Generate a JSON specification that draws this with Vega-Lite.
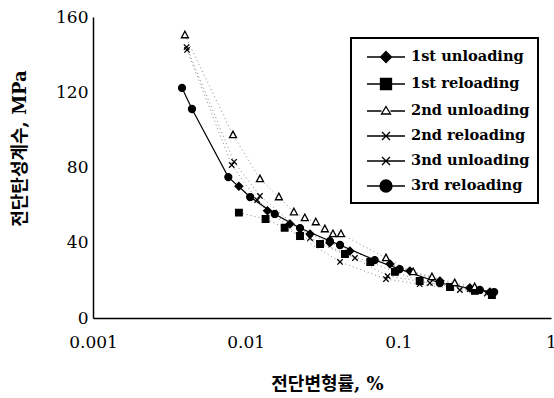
{
  "$schema": "https://vega.github.io/schema/vega-lite/v6.json",
  "width": 458,
  "height": 301,
  "autosize": {"type": "none"},
  "padding": {"left": 93, "top": 17, "right": 3, "bottom": 80},
  "background": "white",
  "config": {"view": {"stroke": null}, "font": "DejaVu Serif", "legend": {"strokeWidth": 2}},
  "data": {"values": [
    {"series": "1st unloading", "strain": 0.00903, "G": 70},
    {"series": "1st unloading", "strain": 0.0139, "G": 57},
    {"series": "1st unloading", "strain": 0.0195, "G": 50},
    {"series": "1st unloading", "strain": 0.0264, "G": 44.6},
    {"series": "1st unloading", "strain": 0.0356, "G": 40},
    {"series": "1st unloading", "strain": 0.0482, "G": 35.6},
    {"series": "1st unloading", "strain": 0.0882, "G": 28.7},
    {"series": "1st unloading", "strain": 0.119, "G": 25},
    {"series": "1st unloading", "strain": 0.187, "G": 19.7},
    {"series": "1st unloading", "strain": 0.294, "G": 16},
    {"series": "1st unloading", "strain": 0.398, "G": 13.8},
    {"series": "1st reloading", "strain": 0.00903, "G": 56},
    {"series": "1st reloading", "strain": 0.0135, "G": 52.6},
    {"series": "1st reloading", "strain": 0.018, "G": 48},
    {"series": "1st reloading", "strain": 0.0227, "G": 43.6},
    {"series": "1st reloading", "strain": 0.0307, "G": 39.3},
    {"series": "1st reloading", "strain": 0.0447, "G": 34},
    {"series": "1st reloading", "strain": 0.0655, "G": 29.8},
    {"series": "1st reloading", "strain": 0.095, "G": 24.5},
    {"series": "1st reloading", "strain": 0.138, "G": 19.7},
    {"series": "1st reloading", "strain": 0.218, "G": 16.5},
    {"series": "1st reloading", "strain": 0.317, "G": 14.4},
    {"series": "1st reloading", "strain": 0.41, "G": 12.2},
    {"series": "2nd unloading", "strain": 0.004, "G": 150.4},
    {"series": "2nd unloading", "strain": 0.00826, "G": 97.3},
    {"series": "2nd unloading", "strain": 0.0124, "G": 73.9},
    {"series": "2nd unloading", "strain": 0.0165, "G": 64.3},
    {"series": "2nd unloading", "strain": 0.0207, "G": 56.3},
    {"series": "2nd unloading", "strain": 0.0244, "G": 53.2},
    {"series": "2nd unloading", "strain": 0.0288, "G": 51},
    {"series": "2nd unloading", "strain": 0.033, "G": 47.3},
    {"series": "2nd unloading", "strain": 0.0373, "G": 44.7},
    {"series": "2nd unloading", "strain": 0.0421, "G": 44.7},
    {"series": "2nd unloading", "strain": 0.083, "G": 31.9},
    {"series": "2nd unloading", "strain": 0.125, "G": 24.5},
    {"series": "2nd unloading", "strain": 0.166, "G": 21.8},
    {"series": "2nd unloading", "strain": 0.234, "G": 18.6},
    {"series": "2nd unloading", "strain": 0.316, "G": 16.5},
    {"series": "2nd reloading", "strain": 0.00413, "G": 142.5},
    {"series": "2nd reloading", "strain": 0.0081, "G": 81.3},
    {"series": "2nd reloading", "strain": 0.0119, "G": 62.7},
    {"series": "2nd reloading", "strain": 0.0227, "G": 43},
    {"series": "2nd reloading", "strain": 0.0415, "G": 29.8},
    {"series": "2nd reloading", "strain": 0.083, "G": 20.7},
    {"series": "2nd reloading", "strain": 0.138, "G": 18},
    {"series": "2nd reloading", "strain": 0.253, "G": 14.9},
    {"series": "2nd reloading", "strain": 0.38, "G": 13},
    {"series": "3nd unloading", "strain": 0.0041, "G": 144},
    {"series": "3nd unloading", "strain": 0.0084, "G": 83},
    {"series": "3nd unloading", "strain": 0.0124, "G": 64.9},
    {"series": "3nd unloading", "strain": 0.0264, "G": 42.5},
    {"series": "3nd unloading", "strain": 0.052, "G": 31.9},
    {"series": "3nd unloading", "strain": 0.085, "G": 22.3},
    {"series": "3nd unloading", "strain": 0.161, "G": 18.6},
    {"series": "3nd unloading", "strain": 0.294, "G": 15.4},
    {"series": "3rd reloading", "strain": 0.00383, "G": 122.3},
    {"series": "3rd reloading", "strain": 0.00445, "G": 111.1},
    {"series": "3rd reloading", "strain": 0.0077, "G": 74.9},
    {"series": "3rd reloading", "strain": 0.0107, "G": 64.3},
    {"series": "3rd reloading", "strain": 0.0155, "G": 55.3},
    {"series": "3rd reloading", "strain": 0.0227, "G": 47.8},
    {"series": "3rd reloading", "strain": 0.0356, "G": 40.9},
    {"series": "3rd reloading", "strain": 0.0415, "G": 38.8},
    {"series": "3rd reloading", "strain": 0.07, "G": 30.8},
    {"series": "3rd reloading", "strain": 0.102, "G": 26},
    {"series": "3rd reloading", "strain": 0.187, "G": 18.6},
    {"series": "3rd reloading", "strain": 0.342, "G": 14.9},
    {"series": "3rd reloading", "strain": 0.424, "G": 13.8}
  ]},
  "encoding": {
    "x": {
      "field": "strain", "type": "quantitative",
      "scale": {"type": "log", "domain": [0.001, 1]},
      "axis": {
        "values": [0.001, 0.01, 0.1, 1], "format": "~g",
        "ticks": false, "grid": false,
        "domainColor": "black", "domainWidth": 1.5,
        "labelFont": "DejaVu Serif", "labelFontSize": 17, "labelColor": "black",
        "labelPadding": 16, "labelFlush": false, "labelOverlap": false, "labelBound": false,
        "title": "전단변형률, %",
        "titleFont": "DejaVu Serif, Noto Sans CJK KR", "titleFontSize": 18, "titleFontWeight": "bold", "titleColor": "black",
        "titleBaseline": "middle", "titleX": 234, "titleY": 66
      }
    },
    "y": {
      "field": "G", "type": "quantitative",
      "scale": {"domain": [0, 160]},
      "axis": {
        "values": [0, 40, 80, 120, 160],
        "ticks": false, "grid": false,
        "domainColor": "black", "domainWidth": 1.5,
        "labelFont": "DejaVu Serif", "labelFontSize": 17, "labelColor": "black",
        "labelPadding": 5,
        "title": "전단탄성계수, MPa",
        "titleFont": "DejaVu Serif, Noto Sans CJK KR", "titleFontSize": 18, "titleFontWeight": "bold", "titleColor": "black",
        "titleAngle": -90, "titleBaseline": "middle", "titleAlign": "center", "titleX": -73, "titleY": 131
      }
    }
  },
  "layer": [
    {
      "transform": [{"filter": "datum.series != '3rd reloading'"}],
      "mark": {"type": "line", "strokeDash": [1, 3], "strokeWidth": 0.7, "color": "#555555"},
      "encoding": {"detail": {"field": "series", "type": "nominal"}, "order": {"field": "strain", "type": "quantitative"}}
    },
    {
      "transform": [{"filter": "datum.series == '3rd reloading'"}],
      "mark": {"type": "line", "strokeWidth": 1.2, "color": "black"},
      "encoding": {"order": {"field": "strain", "type": "quantitative"}}
    },
    {
      "mark": {"type": "point", "filled": true, "size": 60, "strokeWidth": 1.3, "opacity": 1},
      "encoding": {
        "shape": {
          "condition": [
            {"test": "datum.series == '1st unloading'", "value": "M0,-1L1,0L0,1L-1,0Z"},
            {"test": "datum.series == '1st reloading'", "value": "M-0.85,-0.85L0.85,-0.85L0.85,0.85L-0.85,0.85Z"},
            {"test": "datum.series == '2nd unloading'", "value": "M0,-1L0.9,0.7L-0.9,0.7Z"},
            {"test": "datum.series == '3rd reloading'", "value": "M-0.9,0A0.9,0.9,0,1,0,0.9,0A0.9,0.9,0,1,0,-0.9,0Z"}
          ],
          "value": "M-0.7,-0.7L0.7,0.7M-0.7,0.7L0.7,-0.7"
        },
        "fill": {"condition": {"test": "datum.series == '2nd unloading'", "value": "white"}, "value": "black"},
        "stroke": {"value": "black"}
      }
    },
    {
      "transform": [{"filter": "false"}],
      "mark": {"type": "point", "filled": true, "strokeWidth": 1.3, "opacity": 1},
      "encoding": {
        "shape": {
          "field": "series", "type": "nominal",
          "scale": {
            "domain": ["1st unloading", "1st reloading", "2nd unloading", "2nd reloading", "3nd unloading", "3rd reloading"],
            "range": [
              "M-1.9,0L1.9,0M0,-0.55L0.55,0L0,0.55L-0.55,0Z",
              "M-1.9,0L1.9,0M-0.55,-0.55L0.55,-0.55L0.55,0.55L-0.55,0.55Z",
              "M-1.9,0L-0.45,0M0.45,0L1.9,0M0,-0.45L0.45,0.3L-0.45,0.3Z",
              "M-1.9,0L1.9,0M-0.4,-0.4L0.4,0.4M-0.4,0.4L0.4,-0.4",
              "M-1.9,0L1.9,0M-0.4,-0.4L0.4,0.4M-0.4,0.4L0.4,-0.4",
              "M-1.9,0L1.9,0M-0.6,0A0.6,0.6,0,1,0,0.6,0A0.6,0.6,0,1,0,-0.6,0Z"
            ]
          },
          "legend": {
            "title": null, "orient": "none", "legendX": 258, "legendY": 21,
            "symbolSize": 400, "symbolOffset": 16, "labelOffset": 14,
            "symbolStrokeColor": "black", "symbolStrokeWidth": 1.3, "symbolOpacity": 1,
            "rowPadding": 7, "padding": 8,
            "strokeColor": "black", "fillColor": "white",
            "labelFont": "DejaVu Serif", "labelFontSize": 14.6, "labelFontWeight": "bold", "labelColor": "black",
            "labelBaseline": "middle", "labelLimit": 300
          }
        },
        "fill": {
          "field": "series", "type": "nominal",
          "scale": {
            "domain": ["1st unloading", "1st reloading", "2nd unloading", "2nd reloading", "3nd unloading", "3rd reloading"],
            "range": ["black", "black", "white", "black", "black", "black"]
          },
          "legend": {"title": null}
        },
        "stroke": {
          "field": "series", "type": "nominal",
          "scale": {
            "domain": ["1st unloading", "1st reloading", "2nd unloading", "2nd reloading", "3nd unloading", "3rd reloading"],
            "range": ["black", "black", "black", "black", "black", "black"]
          },
          "legend": {"title": null}
        }
      }
    }
  ]
}
